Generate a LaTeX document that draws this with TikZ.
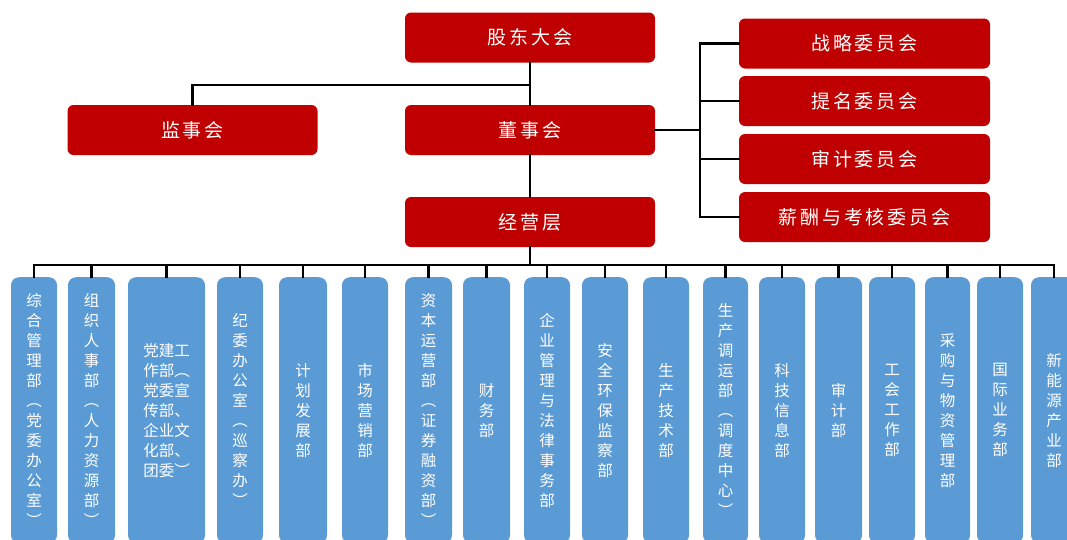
\documentclass[tikz,border=0pt]{standalone}
\usepackage{fontspec}
\newfontfamily\cjk{Noto Sans CJK SC}
\newfontfamily\cjkwide[LetterSpace=15]{Noto Sans CJK SC}
\definecolor{boardred}{RGB}{192,0,0}
\definecolor{deptblue}{RGB}{91,155,213}

\begin{document}
\begin{tikzpicture}[
  x=1pt, y=-1pt,
  font=\cjk,
  organ/.style={fill=boardred,rounded corners=6pt,minimum width=250pt,minimum height=50pt,inner sep=0pt,text=white,font=\cjkwide\fontsize{19}{19}\selectfont},
  committee/.style={organ,minimum width=251pt},
  dept/.style={fill=deptblue,rounded corners=8pt,anchor=north,minimum width=46pt,minimum height=266pt,inner sep=0pt,align=center,text=white,font=\cjk\fontsize{15.5}{20}\selectfont},
  link/.style={black,line width=2.4pt,line cap=rect}]

  \clip (0,0) rectangle (1067,539);

  % governance
  \node[organ] (agm) at (530,37.5) {股东大会};
  \node[organ] (supervisors) at (192.5,130) {监事会};
  \node[organ] (board) at (530,130) {董事会};
  \node[organ] (mgmt) at (530,222) {经营层};

  % board committees
  \node[committee] (strategy) at (864.5,43.5) {战略委员会};
  \node[committee] (nomination) at (864.5,101) {提名委员会};
  \node[committee] (auditcomm) at (864.5,159) {审计委员会};
  \node[committee] (pay) at (864.5,217) {薪酬与考核委员会};

  % departments
  \node[dept] (general) at (34,277) {综\\合\\管\\理\\部\\︵\\党\\委\\办\\公\\室\\︶};
  \node[dept,minimum width=47pt] (staff) at (91.5,277) {组\\织\\人\\事\\部\\︵\\人\\力\\资\\源\\部\\︶};
  \node[dept,minimum width=77pt] (party) at (166.5,277) {党建工\\作部︵\\党委宣\\传部、\\企业文\\化部、\\团委︶};
  \node[dept] (discipline) at (240,277) {纪\\委\\办\\公\\室\\︵\\巡\\察\\办\\︶};
  \node[dept,minimum width=48pt] (planning) at (303,277) {计\\划\\发\\展\\部};
  \node[dept] (marketing) at (365,277) {市\\场\\营\\销\\部};
  \node[dept,minimum width=47pt] (capital) at (428.5,277) {资\\本\\运\\营\\部\\︵\\证\\券\\融\\资\\部\\︶};
  \node[dept,minimum width=47pt] (finance) at (486.5,277) {财\\务\\部};
  \node[dept] (legal) at (547,277) {企\\业\\管\\理\\与\\法\\律\\事\\务\\部};
  \node[dept] (safety) at (605,277) {安\\全\\环\\保\\监\\察\\部};
  \node[dept] (production) at (666,277) {生\\产\\技\\术\\部};
  \node[dept,minimum width=45pt] (dispatch) at (725.5,277) {生\\产\\调\\运\\部\\︵\\调\\度\\中\\心\\︶};
  \node[dept] (it) at (782,277) {科\\技\\信\\息\\部};
  \node[dept,minimum width=47pt] (audit) at (838.5,277) {审\\计\\部};
  \node[dept] (union) at (892,277) {工\\会\\工\\作\\部};
  \node[dept,minimum width=45pt] (purchase) at (947.5,277) {采\\购\\与\\物\\资\\管\\理\\部};
  \node[dept] (intl) at (1000,277) {国\\际\\业\\务\\部};
  \node[dept] (energy) at (1054,277) {新\\能\\源\\产\\业\\部};

  \coordinate (split) at (530,85);
  \coordinate (cbus) at (700,130);
  \coordinate (dbus) at (530,265);

  \draw[link] (agm) -- (board);
  \draw[link] (supervisors.north) |- (split);
  \draw[link] (board) -- (mgmt);

  \draw[link] (board.east) -- (cbus);
  \draw[link] (cbus |- strategy.west) -- (cbus |- pay.west);
  \foreach \c in {strategy,nomination,auditcomm,pay}
    \draw[link] (\c.west) -- (cbus |- \c.west);

  \draw[link] (mgmt) -- (dbus);
  \draw[link] (dbus -| general.north) -- (dbus -| energy.north);
  \foreach \d in {general,staff,party,discipline,planning,marketing,capital,finance,legal,safety,production,dispatch,it,audit,union,purchase,intl,energy}
    \draw[link] (\d.north) -- (\d.north |- dbus);
\end{tikzpicture}
\end{document}
